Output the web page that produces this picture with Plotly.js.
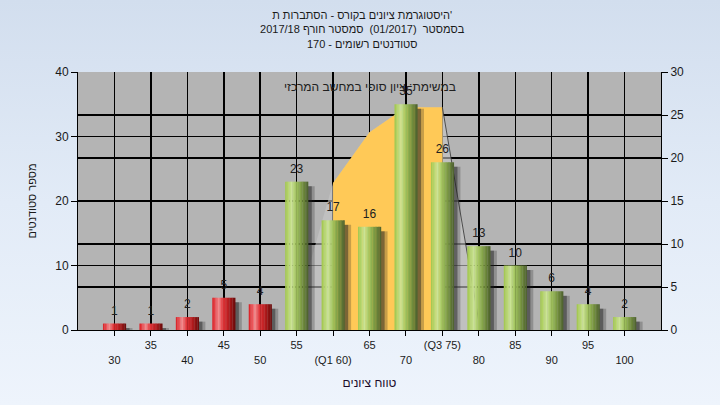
<!DOCTYPE html>
<html><head><meta charset="utf-8">
<script src="https://cdn.plot.ly/plotly-3.0.1.min.js"></script>
<style>
html,body{margin:0;padding:0;width:720px;height:405px;overflow:hidden;
background:linear-gradient(to bottom,#D2DEEE 0%,#E2EBF7 50%,#EEF4FC 100%);}
#chart{width:720px;height:405px;}
</style>
</head><body><div id="chart"></div>
<script>
// ---- data ----
const categories = ['30','35','40','45','50','55','60','65','70','75','80','85','90','95','100'];
const tickLabels = ['30','35','40','45','50','55','(Q1 60)','65','70','(Q3 75)','80','85','90','95','100'];
const students   = [1,1,2,5,4,23,17,16,35,26,13,10,6,4,2];
const passingGrade = 55;
const curveCats   = ['55','60','65','70','75','80'];
const curveValues = [2.3,17.1,23.0,25.9,25.9,1.0];
const iqrCats     = ['60','65','70','75'];
const iqrValues   = [17.1,23.0,25.9,25.9];
const titleLines = ["היסטוגרמת ציונים בקורס - הסתברות ת'", "בסמסטר  (01/2017)  סמסטר חורף 2017/18", "סטודנטים רשומים - 170"];
const subTitle = 'במשימת: ציון סופי במחשב המרכזי';
const xTitle = 'טווח ציונים';
const yTitle = 'מספר סטודנטים';

// ---- helpers ----
const idx = categories.map((c,i)=>i);
const toIdx = arr => arr.map(c => categories.indexOf(c));
const isPass = categories.map(c => Number(c) >= passingGrade);

function hex2rgb(h){return [1,3,5].map(k=>parseInt(h.substr(k,2),16));}
function profile(stops,t){
  for(let i=1;i<stops.length;i++){
    if(t<=stops[i][0]){
      const a=stops[i-1],b=stops[i];const f=(t-a[0])/(b[0]-a[0]);
      const ca=hex2rgb(a[1]),cb=hex2rgb(b[1]);
      return 'rgb('+ca.map((v,k)=>Math.round(v+(cb[k]-v)*f)).join(',')+')';
    }
  }
  return stops[stops.length-1][1];
}
const greenStops=[[0,'#A0C54C'],[0.12,'#B4D46A'],[0.28,'#CBE396'],[0.45,'#A8C964'],[0.62,'#8BAB4D'],[0.8,'#6D883B'],[1,'#4C5F2E']];
const redStops=[[0,'#D81C22'],[0.14,'#EA4D52'],[0.28,'#F38A8C'],[0.45,'#E3373B'],[0.65,'#C21E21'],[0.85,'#931313'],[1,'#660C0C']];

const W=0.63, N=16;
const traces=[];

// area (right axis, main subplot -> below bars)
traces.push({type:'scatter',x:toIdx(curveCats),y:curveValues,xaxis:'x',yaxis:'y',
  mode:'lines',fill:'tozeroy',fillcolor:'rgba(200,200,200,0.6)',
  line:{width:0},hoverinfo:'skip',showlegend:false});
traces.push({type:'scatter',x:toIdx(iqrCats),y:iqrValues,xaxis:'x',yaxis:'y',
  mode:'lines',fill:'tozeroy',fillcolor:'#FFC957',
  line:{color:'#FFC957',width:0},hoverinfo:'skip',showlegend:false});
traces.push({type:'scatter',x:toIdx(curveCats.slice(-2)),y:curveValues.slice(-2),xaxis:'x',yaxis:'y',
  mode:'lines',line:{color:'rgba(50,50,50,0.8)',width:1},hoverinfo:'skip',showlegend:false});

// shadows
traces.push({type:'bar',x:idx,y:students.map(v=>Math.max(v-0.7,0)),xaxis:'x',yaxis:'y2',
  width:0.2,offset:W/2-0.02,marker:{color:'rgba(30,30,30,0.25)',line:{width:0}},hoverinfo:'skip',showlegend:false});
traces.push({type:'bar',x:idx,y:students.map(v=>Math.max(v-0.7,0)),xaxis:'x',yaxis:'y2',
  width:0.12,offset:W/2-0.02,marker:{color:'rgba(30,30,30,0.45)',line:{width:0}},hoverinfo:'skip',showlegend:false});

// bar strips (cylinder shading)
for(let k=0;k<N;k++){
  const t=(k+0.5)/N;
  traces.push({type:'bar',x:idx,y:students,xaxis:'x',yaxis:'y2',
    width:W/N+0.006,offset:-W/2+k*W/N,
    marker:{color:isPass.map(p=>profile(p?greenStops:redStops,t)),line:{width:0}},
    hoverinfo:'skip',showlegend:false});
}

// value labels
traces.push({type:'scatter',x:idx,y:students,xaxis:'x',yaxis:'y2',mode:'markers+text',
  text:students.map(String),textposition:'top center',
  textfont:{family:'Liberation Sans, Arial, sans-serif',size:12,color:'#202020'},
  marker:{size:8,color:'rgba(0,0,0,0)'},hoverinfo:'skip',showlegend:false,cliponaxis:false});

const font={family:'Liberation Sans, Arial, sans-serif',color:'#1a1a1a'};
const layout={
  width:720,height:405,
  margin:{l:78,r:59,t:72,b:75},
  paper_bgcolor:'rgba(0,0,0,0)',plot_bgcolor:'#B4B4B4',
  barmode:'overlay',
  font:font,
  title:{text:titleLines.join('<br>'),font:{family:font.family,size:11,color:'#1a1a1a'},x:0.503,xanchor:'center',y:0.953,yanchor:'top'},
  xaxis:{range:[-1,15],tickmode:'array',tickvals:idx,
    ticktext:tickLabels.map((t,i)=>i%2===0?'\u00a0<br>'+t:t),
    ticks:'outside',ticklen:5,tickcolor:'#000',showline:true,linecolor:'#000',linewidth:1,
    showgrid:true,gridcolor:'#000',gridwidth:1.5,zeroline:false,
    tickfont:{size:11,color:'#1a1a1a'},
    title:{text:xTitle,standoff:14,font:{size:12,color:'#1a0a2a'}}},
  yaxis:{range:[0,30],side:'right',dtick:5,ticks:'outside',ticklen:6,tickcolor:'#000',
    showline:true,linecolor:'#000',linewidth:1,showgrid:true,gridcolor:'#000',gridwidth:1.5,zeroline:false,
    tickfont:{size:12,color:'#1a1a1a'}},
  yaxis2:{range:[0,40],side:'left',overlaying:'y',dtick:10,ticks:'outside',ticklen:6,tickcolor:'#000',
    showline:true,linecolor:'#000',linewidth:1,showgrid:true,gridcolor:'#000',gridwidth:1.5,zeroline:false,
    tickfont:{size:12,color:'#1a1a1a'},
    title:{text:yTitle,standoff:16,font:{size:11,color:'#1a1a1a'}}},
  annotations:[{xref:'paper',yref:'paper',x:0.5,y:0.975,text:subTitle,showarrow:false,
    font:{size:12,color:'#202020'}}]
};
Plotly.newPlot('chart',traces,layout,{displayModeBar:false,staticPlot:true});
</script>
</body></html>
